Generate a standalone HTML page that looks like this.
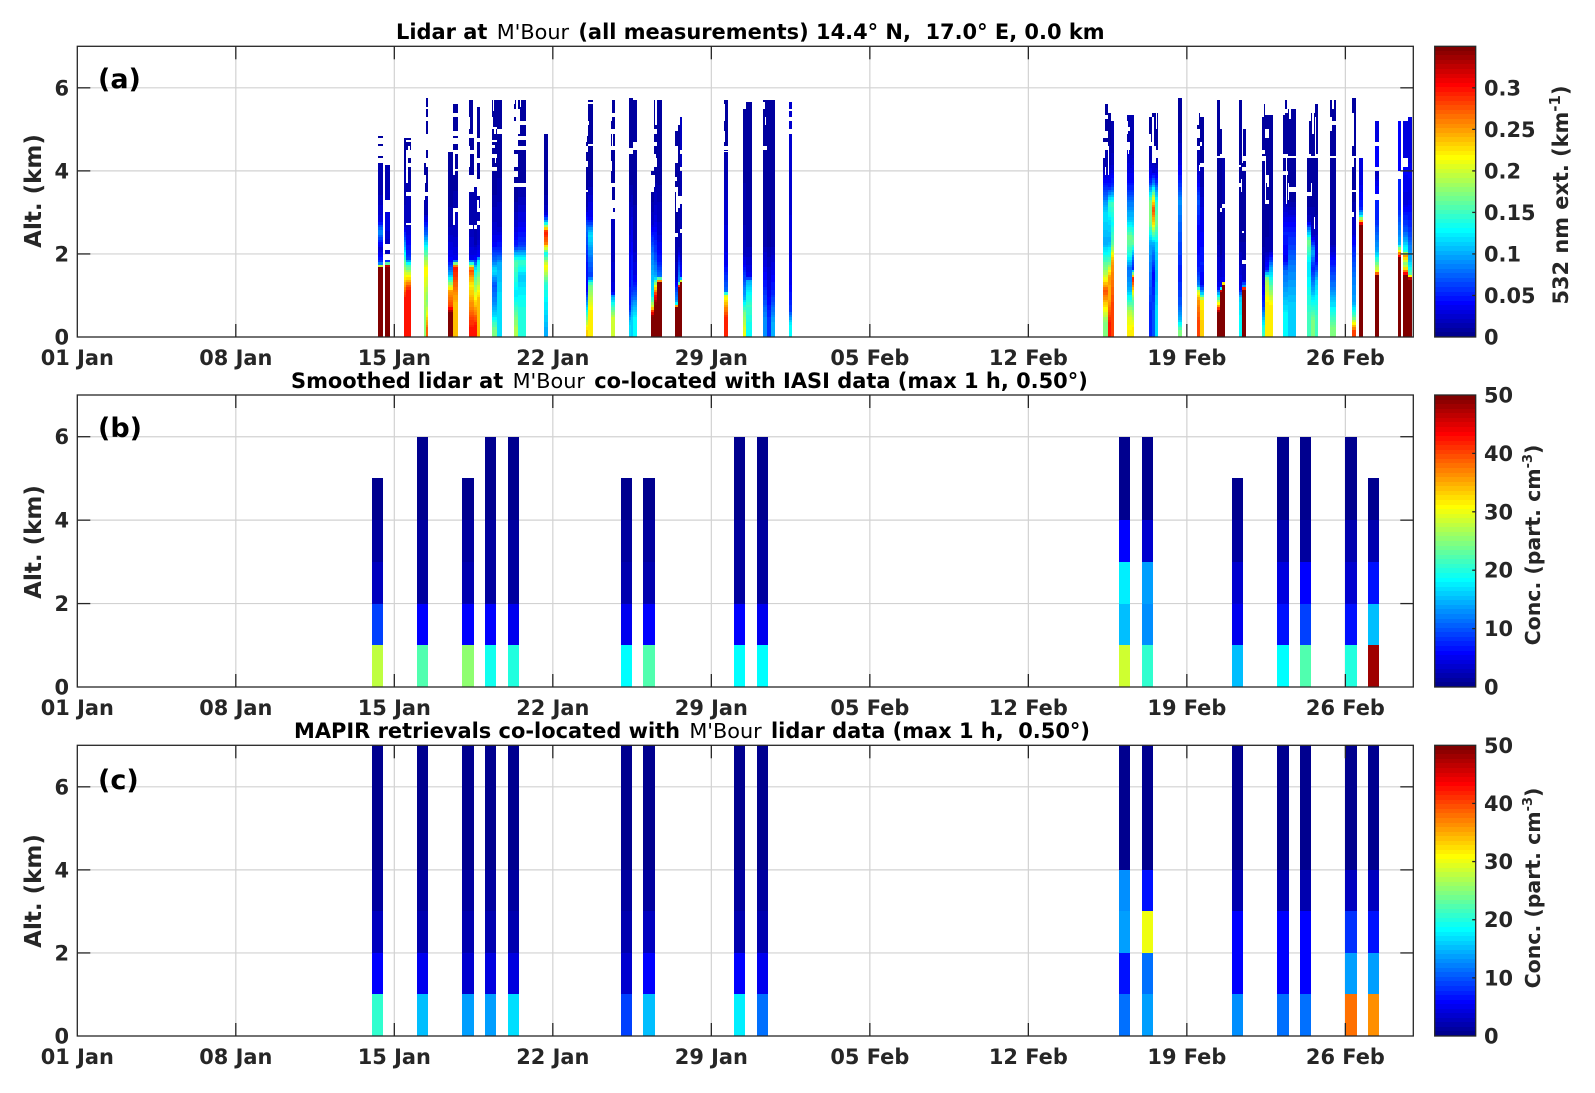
<!DOCTYPE html>
<html lang="en">
<head>
<meta charset="utf-8">
<title>Lidar at M'Bour</title>
<style>
html,body{margin:0;padding:0;background:#fff;}
svg{display:block;font-family:"DejaVu Sans","Liberation Sans",sans-serif;}
text{white-space:pre;}
.tick{font-size:20.9px;font-weight:700;fill:#262626;}
.lab{font-size:23px;font-weight:700;fill:#262626;}
.ttl{font-size:20.95px;font-weight:700;fill:#000;}
.ttl .m{font-weight:400;font-size:20.8px;}
.let{font-size:27px;font-weight:700;fill:#000;}
</style>
</head>
<body>
<svg id="fig" xmlns="http://www.w3.org/2000/svg" width="1595" height="1093" viewBox="0 0 1595 1093">
<rect width="1595" height="1093" fill="#fff"/>
<g id="marks"></g>
<text class="ttl" x="396" y="39">Lidar at <tspan class="m" dx="2">M'Bour</tspan><tspan dx="2"> (all measurements) 14.4° N,  17.0° E, 0.0 km</tspan></text>
<text class="ttl" x="291" y="388">Smoothed lidar at <tspan class="m" dx="2">M'Bour</tspan><tspan dx="2"> co-located with IASI data (max 1 h, 0.50°)</tspan></text>
<text class="ttl" x="294" y="738">MAPIR retrievals co-located with <tspan class="m" dx="2">M'Bour</tspan><tspan dx="2"> lidar data (max 1 h,  0.50°)</tspan></text>
<text class="let" x="98" y="88">(a)</text>
<text class="let" x="98" y="437">(b)</text>
<text class="let" x="98" y="789">(c)</text>
<text class="lab" text-anchor="middle" transform="translate(41,191) rotate(-90)">Alt. (km)</text>
<text class="lab" text-anchor="middle" transform="translate(41,542) rotate(-90)">Alt. (km)</text>
<text class="lab" text-anchor="middle" transform="translate(41,891) rotate(-90)">Alt. (km)</text>
<text class="lab" style="font-size:20.9px" text-anchor="middle" transform="translate(1568,195) rotate(-90)">532 nm ext. (km<tspan dy="-8" font-size="15">-1</tspan><tspan dy="8">)</tspan></text>
<text class="lab" style="font-size:20.5px" text-anchor="middle" transform="translate(1540,545) rotate(-90)">Conc. (part. cm<tspan dy="-8" font-size="13">-3</tspan><tspan dy="8">)</tspan></text>
<text class="lab" style="font-size:20.5px" text-anchor="middle" transform="translate(1540,888) rotate(-90)">Conc. (part. cm<tspan dy="-8" font-size="13">-3</tspan><tspan dy="8">)</tspan></text>
</svg>
<script>
// ---------- tick labels ----------
const dateTickDays = [0, 7, 14, 21, 28, 35, 42, 49, 56];
const dateTickLabels = ['01 Jan', '08 Jan', '15 Jan', '22 Jan', '29 Jan', '05 Feb', '12 Feb', '19 Feb', '26 Feb'];
const altTicks = [0, 2, 4, 6];
const extTicks = [0, 0.05, 0.1, 0.15, 0.2, 0.25, 0.3];
const extTickLabels = ['0', '0.05', '0.1', '0.15', '0.2', '0.25', '0.3'];
const concTicks = [0, 10, 20, 30, 40, 50];
const concTickLabels = ['0', '10', '20', '30', '40', '50'];

// ---------- panel (b) and (c): 1 km altitude bins, ground upward ----------
const profileDays = [13, 15, 17, 18, 19, 24, 25, 29, 30, 46, 47, 51, 53, 54, 56, 57];
const smoothedConc = [
  [27.5, 8.6, 3, 1.5, 0.5],
  [22, 6.2, 1.2, 1.2, 0.5, 0.5],
  [25, 6.2, 2, 1.2, 0.5],
  [19.5, 5.5, 1.5, 1.2, 0.5, 0.5],
  [20.3, 5, 1.5, 1.2, 0.5, 0.5],
  [18, 4.7, 2, 1.2, 0.5],
  [22, 6.2, 2, 1.2, 0.5],
  [18.7, 6.2, 1.5, 1.2, 0.5, 0.5],
  [18, 4.7, 1.5, 1.2, 0.5, 0.5],
  [28.5, 15, 17.5, 6.2, 0.5, 0.5],
  [21, 12.5, 14, 3.6, 0.5, 0.5],
  [15.6, 4.7, 3.6, 1, 0.5],
  [18, 7, 4.5, 1.8, 0.5, 0.5],
  [22, 8.6, 5.5, 1.5, 0.5, 0.5],
  [20.3, 7, 3.5, 1.8, 0.5, 0.5],
  [48, 15, 7, 1.8, 0.5]
];
const mapirConc = [
  [21, 6.2, 2.5, 1.2, 0.5, 0.5, 0.5],
  [15.6, 4.7, 2.2, 1.2, 0.5, 0.5, 0.5],
  [14, 3.5, 2.2, 1.2, 0.5, 0.5, 0.5],
  [14, 4, 2.2, 1.2, 0.5, 0.5, 0.5],
  [16.5, 4, 2.2, 1.2, 0.5, 0.5, 0.5],
  [8.6, 3.5, 2.2, 1.2, 0.5, 0.5, 0.5],
  [15.6, 6.2, 2.5, 1.2, 0.5, 0.5, 0.5],
  [17.5, 6.2, 2.2, 1.2, 0.5, 0.5, 0.5],
  [11, 4.7, 2.2, 1.2, 0.5, 0.5, 0.5],
  [11, 7, 14, 12.5, 0.5, 0.5, 0.5],
  [14, 11.7, 30, 7, 0.5, 0.5, 0.5],
  [12.5, 6.2, 6, 2, 0.5, 0.5, 0.5],
  [11.7, 5.5, 5.5, 1.8, 0.5, 0.5, 0.5],
  [11.7, 6.2, 6.2, 1.8, 0.5, 0.5, 0.5],
  [37.5, 14, 8, 2.5, 0.5, 0.5, 0.5],
  [36.5, 13.5, 7, 2.5, 0.5, 0.5, 0.5]
];

// ---------- panel (a): lidar curtain ----------
// lidarDays: [start day, end day]; lidarProfiles: flat [top altitude km, extinction, ...] from the ground up (null = no data)
const _ = null;
const lidarDays = [
  [13.28,13.50],[13.59,13.81],
  [14.43,14.52],[14.52,14.74],
  [15.31,15.40],[15.40,15.49],
  [16.37,16.61],[16.61,16.83],
  [17.30,17.52],[17.52,17.64],[17.64,17.79],
  [18.32,18.54],[18.54,18.76],
  [19.29,19.47],[19.47,19.82],
  [20.61,20.79],
  [22.47,22.56],[22.56,22.78],
  [23.57,23.75],
  [24.37,24.46],[24.46,24.55],[24.55,24.72],
  [25.34,25.47],[25.47,25.59],[25.59,25.83],
  [26.40,26.53],[26.53,26.62],[26.62,26.71],
  [28.56,28.74],
  [29.40,29.54],[29.54,29.80],
  [30.29,30.46],[30.46,30.64],[30.64,30.82],
  [31.44,31.57],
  [45.31,45.53],[45.53,45.66],[45.66,45.79],
  [46.37,46.50],[46.50,46.59],[46.59,46.68],
  [47.34,47.47],[47.47,47.60],[47.60,47.74],
  [48.62,48.80],
  [49.46,49.59],[49.59,49.77],
  [50.34,50.48],[50.48,50.56],[50.56,50.70],
  [51.31,51.45],[51.45,51.62],
  [52.33,52.46],[52.46,52.64],[52.64,52.82],
  [53.26,53.48],[53.48,53.83],
  [54.32,54.49],[54.49,54.67],[54.67,54.80],
  [55.33,55.60],
  [56.31,56.48],[56.62,56.79],
  [57.32,57.50],
  [58.34,58.46],[58.55,58.77],[58.77,58.95]
];
const lidarProfiles = [
  [1.65,.345, 1.72,.24, 1.85,.06, 2.4,.022, 2.65,.09, 3,.03, 4.2,.012, 4.3,_, 4.35,.01, 4.6,_, 4.65,.01, 4.8,_, 4.85,.01, 5,_],
  [1.7,.345, 1.76,.28, 1.85,.06, 2,_, 2.1,.02, 2.25,_, 2.35,.02, 3,.03, 3.3,_, 3.45,.02, 4.15,.012],
  [1.85,.3, 3.5,.02, 4.8,.01],
  [.6,.3, 1.65,.3, 1.8,.15, 2,.06, 3.4,.02, 3.5,_, 3.6,.016, 4.1,.01, 4.2,_, 4.3,.01, 4.5,_, 4.55,.01, 4.7,.01, 4.75,_, 4.8,.01],
  [1.3,.18, 1.95,.22, 2.3,.14, 2.6,.08, 3.4,.012, 3.5,_, 3.7,.01, 3.9,_, 4.2,.01],
  [.4,.27, 1.3,.17, 1.95,.22, 2.3,.14, 2.6,.08, 3.4,.012, 3.5,_, 4.1,.01, 4.3,_, 4.5,.01, 4.9,_, 5.2,.01, 5.3,_, 5.5,.01, 5.55,_, 5.75,.01],
  [.6,.345, .9,.28, 1.3,.25, 1.7,.1, 2,.04, 3.6,.012, 4.45,.008, 4.75,_],
  [1.65,.24, 1.72,.3, 2,.035, 3,.02, 3.1,_, 3.5,.012, 4,.01, 4.05,_, 4.4,.008, 4.5,_, 4.65,.008, 4.8,_, 5.3,.008, 5.4,_, 5.6,.008],
  [.4,.3, 1,.26, 1.5,.22, 1.75,.28, 2,.035, 3.5,.012, 3.9,_, 4.4,.008, 4.5,_, 4.8,.008, 4.9,_, 5.7,.008],
  [.5,.3, 1,.24, 1.5,.18, 1.8,.12, 2,.04, 2.6,.012, 2.7,_, 3.6,.012, 3.8,_, 5.5,_],
  [1.8,.24, 1.9,.12, 2,.04, 2.7,.02, 2.8,_, 3,.012, 3.1,_, 3.4,.012, 3.8,_, 4.2,.008, 4.3,_, 4.7,.008, 4.8,_, 5.55,.008],
  [.4,.17, .6,.12, 1,.09, 1.5,.07, 1.7,.12, 1.95,.08, 2.5,.04, 3,.022, 4,.01, 4.1,_, 4.3,.008, 4.4,_, 4.7,.008, 4.75,_, 5,.008, 5.05,_, 5.7,.008],
  [1.7,.12, 1.85,.1, 2.2,.06, 3,.022, 4.9,.01, 5,_, 5.7,.008],
  [.4,.19, .8,.16, 1.2,.12, 1.6,.14, 2,.16, 2.4,.05, 3,.024, 3.6,.01, 3.7,_, 3.85,.008, 4,_, 4.1,.008, 4.4,_, 4.5,.008, 4.7,_, 5.2,_, 5.3,.008, 5.5,_, 5.7,.008],
  [1.3,.14, 1.6,.11, 2,.15, 2.4,.06, 3,.035, 3.2,.025, 3.6,.014, 3.7,_, 4.5,.008, 4.6,_, 4.75,.008, 4.85,_, 5.1,.008, 5.2,_, 5.7,.008],
  [.3,.1, 1,.12, 1.5,.14, 1.9,.22, 2.1,.13, 2.4,.26, 2.65,.3, 2.9,.1, 3,.03, 3.5,.012, 4.9,.006],
  [.35,.23, .9,.13, 1.3,.04, 2.4,.05, 2.8,.08, 3.5,.012, 3.55,_, 3.7,.008, 3.8,.008, 4.15,.008, 4.25,_, 4.45,.008, 4.6,_, 4.85,.008, 5,_],
  [1.25,.22, 1.3,.16, 1.6,.06, 2.2,.08, 2.7,.12, 3,.04, 4.6,.01, 4.65,_, 5.6,.008, 5.65,_, 5.7,.008],
  [.9,.2, 1.05,.1, 1.1,.03, 2.85,.02, 3,_, 3.1,.012, 3.3,_, 3.6,.008, 3.7,_, 4.5,.008, 4.6,_, 4.9,.008, 5,_, 5.3,.008, 5.4,_, 5.7,.008],
  [.6,.12, .8,.05, 3,.035, 4.4,.01, 4.55,_, 5.75,.008],
  [1,.11, 1.2,.06, 2,.05, 3,.035, 4.4,.01, 4.55,_, 5.75,.008],
  [.9,.13, 1,.08, 1.8,.035, 3,.015, 4.5,.008, 4.7,_, 5.7,.006],
  [.5,.345, .7,.3, .8,.2, 1.2,.12, 2,.1, 2.4,.07, 3,.025, 3.5,.01, 3.9,_, 4,.008, 4.2,_, 4.4,_, 4.6,.008, 4.8,_],
  [.8,.345, 1.2,.3, 1.3,.2, 1.6,.1, 2.5,.06, 3.5,.025, 4.1,.01, 4.3,_, 4.6,.008, 4.7,_, 4.9,.008, 5,_, 5.7,.006],
  [1.3,.345, 1.33,.3, 1.6,.08, 2,.05, 3,.025, 4.5,.01, 4.6,.008, 5.7,.006],
  [.7,.345, .75,.3, .9,.1, 2,.02, 2.4,.012, 2.5,_, 3.5,.008, 3.6,_, 4.2,.008, 4.3,_, 4.95,.006],
  [1.2,.345, 1.25,.3, 1.4,.1, 3,.014, 4,.01, 5.1,.01],
  [1.3,.345, 1.4,.2, 1.5,.05, 2.5,.014, 2.6,_, 3.2,.014, 3.3,_, 4,.014, 4.1,_, 4.4,.02, 4.5,_, 5.3,.02],
  [1,.29, 1.05,.2, 1.1,.08, 2.5,.035, 3.5,.025, 4.5,.014, 4.6,_, 5.7,.008],
  [.25,.21, .9,.17, 1,.1, 3,.02, 5.5,.008],
  [.25,.13, 1.3,.15, 1.4,.1, 1.5,.035, 3,.014, 5.65,.008],
  [.9,.09, 1.5,.05, 3,.014, 4.5,.006, 4.6,_, 5.7,.006],
  [.7,.06, 1.4,.035, 3,.01, 5.7,.006],
  [.7,.1, 1.5,.05, 3,.014, 5.7,.006],
  [.6,.13, .65,.06, 2,.035, 4.9,.025, 5,_, 5.2,.025, 5.3,_, 5.45,.025, 5.5,_, 5.65,.025],
  [.7,.17, 1,.24, 1.2,.28, 1.7,.2, 2,.15, 2.5,.1, 3.4,.12, 3.7,.06, 4.5,.012, 4.7,_, 4.8,.008, 4.95,_, 5.25,.008, 5.35,_, 5.6,.008],
  [.6,.3, 1.3,.24, 1.6,.25, 2,.16, 2.6,.1, 3,.12, 3.4,.15, 3.8,.05, 4.6,.014, 5.4,.008],
  [1.6,.28, 2,.25, 2.5,.16, 3,.13, 3.4,.15, 3.8,.06, 4.5,.02, 5.2,.012],
  [.3,.22, .8,.2, 1.5,.1, 1.8,.08, 2.2,.14, 2.6,.17, 3,.11, 3.5,.08, 4,.04, 4.5,.025, 4.7,_, 4.95,.014, 5.05,_, 5.35,.012],
  [.3,.22, .8,.2, 1.5,.1, 1.8,.08, 2.2,.14, 2.6,.17, 3,.11, 3.5,.08, 4,.04, 4.8,.016, 4.9,.012, 5.35,.012, 5.5,_],
  [.5,.22, 1.2,.15, 1.6,.3, 1.7,.05, 2,.07, 2.6,.17, 3,.11, 3.5,.08, 4,.04, 5.35,.012],
  [1,.05, 2,.08, 2.5,.1, 3,.17, 3.5,.17, 4,.05, 4.6,.014, 4.7,_, 5.3,.008],
  [1,.07, 2,.04, 2.5,.1, 2.9,.22, 3.2,.28, 3.5,.2, 3.8,.1, 4.2,.025, 5.4,.008],
  [1,.12, 2,.1, 2.5,.12, 3,.17, 3.5,.14, 4,.05, 4.3,.014, 4.5,_, 5.4,.008],
  [.3,.17, .6,.1, 1,.07, 2,.05, 3,.07, 3.5,.09, 4,.05, 4.6,.025, 5.75,.006],
  [.8,.28, 1,.25, 1.2,.2, 1.3,.08, 2,.05, 3,.035, 3.5,.07, 4,.035, 4.5,.012, 4.6,_, 4.8,.008, 5,_, 5.4,.008],
  [.8,.23, 1,.22, 1.05,.12, 1.5,.035, 2,.05, 3.5,.035, 4.1,.012, 4.2,_, 4.4,.008, 5.3,.008],
  [.6,.345, 1,.22, 1.1,.1, 1.3,.035, 4.3,.006, 4.35,_, 5.7,.006],
  [1.1,.345, 1.3,.035, 3,.006, 3.1,_, 4.3,.006, 4.4,_, 5,.006, 5.7,_],
  [1.25,.345, 1.3,.27, 1.4,.035, 3.1,.012, 3.2,_, 4.3,.012],
  [.8,.13, 1.1,.11, 1.2,.035, 3.6,.008, 3.7,_, 5.7,.006],
  [1.15,.345, 1.2,.28, 1.25,.1, 1.5,.02, 4,.006, 4.1,_, 4.25,.006, 4.35,_, 5,.006, 5.5,_],
  [.1,.15, .5,.13, 1,.06, 2,.014, 4.4,.006, 4.5,_, 5.6,.006],
  [.5,.22, 1.2,.22, 1.6,.18, 1.65,.05, 2.5,.014, 3.2,.006, 3.3,_, 3.7,.006, 3.9,_, 4.8,.006, 5,_, 5.35,.006],
  [1.6,.22, 1.7,.1, 2.5,.014, 5.35,.006],
  [1,.13, 1.5,.09, 1.7,.08, 2,.035, 3,.05, 3.9,.008, 4,_, 4.3,.006, 4.4,_, 5.4,.006, 5.5,_, 5.7,.006],
  [1.6,.11, 2,.08, 2.5,.06, 3,.04, 3.5,.01, 3.6,_, 5.5,.008],
  [1,.15, 1.5,.13, 2,.12, 2.6,.17, 3,.02, 3.4,.008, 3.5,_, 4.3,.006, 4.4,_, 5.2,.006],
  [.8,.17, 1.5,.1, 1.8,.05, 2.3,.1, 2.6,.02, 4.3,.006, 4.35,_, 5.4,.006],
  [1,.15, 1.7,.11, 2,.035, 4.3,.006, 4.4,_, 5.6,.006],
  [.5,.17, 1,.12, 1.5,.08, 2,.05, 2.5,.014, 5.1,.006, 5.2,_, 5.7,.006],
  [.3,.28, .6,.17, 1,.1, 2,.08, 2.3,.05, 2.9,.02, 4.3,.006, 4.35,_, 5.6,.006, 5.75,.006],
  [2.7,.345, 2.85,.25, 3,.12, 3.2,.05, 4.3,.03],
  [1.5,.345, 1.6,.22, 2.5,.1, 3.3,.05, 3.45,_, 3.8,.04, 4,.02, 4.1,_, 4.6,.04, 4.7,_, 5.2,.03],
  [1.92,.345, 2,.29, 2.5,.1, 3.8,.05, 4,_, 5.2,.04],
  [1.5,.345, 1.6,.28, 1.9,.17, 2,.25, 2.1,.14, 3,.07, 3.5,.03, 3.9,.035, 4.1,.04, 4.3,_, 4.7,.03, 5.2,.03],
  [1.4,.345, 1.6,.16, 2,.11, 3,.06, 3.8,.03, 4,.04, 4.2,.035, 4.5,.03, 5.3,.03]
];
// lidarGaps: missing-data patches [start day, end day, low altitude km, high altitude km]
const lidarGaps = [
  [19.38,19.47,5.0,5.7],[19.29,19.33,5.6,5.7],[19.47,19.53,4.9,5.5],[19.53,19.58,5.55,5.7],
  [18.32,18.37,5.0,5.3],[18.37,18.41,5.45,5.7],[18.32,18.45,4.55,4.62],[18.45,18.5,4.2,4.3],[18.41,18.48,4.9,5.0],
  [22.47,22.52,4.7,5.0],[22.47,22.56,4.1,4.2],[22.47,22.52,3.5,3.55],[22.56,22.6,5.1,5.2],
  [23.57,23.62,5.2,5.7],[23.62,23.66,4.5,5.0],[23.57,23.66,3.0,3.1],[23.57,23.61,3.15,3.6],[23.57,23.62,4.0,4.25],
  [25.34,25.4,3.5,3.85],[25.34,25.47,4.3,4.7],[25.38,25.43,4.9,5.6],[25.47,25.52,3.6,3.9],[25.53,25.59,5.1,5.7],[25.47,25.55,4.2,4.4],
  [26.4,26.53,4.3,4.6],[26.44,26.53,3.0,3.5],[26.53,26.62,3.1,3.4],[26.62,26.71,3.2,3.4],[26.4,26.5,3.75,3.85],
  [28.56,28.62,5.2,5.6],[28.56,28.74,4.45,4.48],[28.56,28.62,4.7,4.95],
  [30.29,30.35,5.5,5.65],[30.35,30.42,5.1,5.3],
  [17.30,17.34,4.1,4.6],[17.4,17.46,3.5,3.8],[17.3,17.46,2.6,2.7],[17.46,17.52,4.9,5.7],[17.3,17.36,5.0,5.3],[17.64,17.72,3.1,3.3],[17.64,17.79,2.75,2.8],
  [16.37,16.61,4.5,4.8],[16.61,16.66,2.7,3.0],[16.61,16.7,3.9,4.45],[16.61,16.83,4.85,4.95],
  [14.52,14.6,3.7,4.3],[14.62,14.68,4.4,4.6],[14.52,14.74,2.7,2.75],[15.31,15.36,3.3,3.7],[15.31,15.4,4.2,4.6],
  [45.31,45.4,4.9,5.6],[45.31,45.38,4.3,4.5],[45.4,45.45,3.9,4.1],[45.53,45.58,3.9,4.6],[46.37,46.42,4.9,5.2],[46.42,46.46,4.4,4.7],
  [47.34,47.4,4.6,4.9],[47.47,47.53,4.2,5.3],[47.55,47.62,4.2,4.6],[47.62,47.68,5.0,5.4],
  [49.46,49.52,5.1,5.4],[49.59,49.66,4.6,4.7],[49.52,49.59,4.0,4.15],
  [50.48,50.56,3.0,3.1],[50.34,50.48,4.3,4.35],
  [51.31,51.38,4.1,4.15],[51.38,51.45,3.5,3.8],[51.45,51.5,4.2,5.5],[51.45,51.62,1.75,1.85],[51.45,51.52,2.5,2.55],
  [52.33,52.4,5.3,5.6],[52.46,52.5,3.2,4.3],[52.5,52.56,5.45,5.7],[52.33,52.5,4.25,4.35],[52.56,52.64,3.6,3.9],
  [53.26,53.33,5.35,5.7],[53.37,53.42,3.2,4.4],[53.48,53.53,3.3,3.7],[53.42,53.48,5.45,5.7],[53.53,53.6,5.25,5.5],[53.26,53.83,4.3,4.35],
  [54.32,54.38,4.3,5.4],[54.49,54.54,3.4,3.7],[54.54,54.6,4.9,5.4],[54.6,54.67,2.6,2.9],[54.67,54.72,4.35,5.3],
  [55.33,55.42,4.95,5.3],[55.33,55.6,4.3,4.35],[55.42,55.5,5.5,5.7],
  [56.31,56.36,4.6,5.4],[56.31,56.48,3.5,3.55],[56.31,56.36,2.9,3.0],[56.31,56.38,4.1,4.35]
];

// ---------- axes ----------
const NS = 'http://www.w3.org/2000/svg';
const marks = document.getElementById('marks');
const plotLeft = 77.3, plotRight = 1413.3, pxPerDay = (plotRight - plotLeft) / 59;
const cbLeft = 1434.7, cbRight = 1475.7;
const altMax = 7;
const altStep = 0.06;
const panels = [
  { top: 46.3, bottom: 337, baseline: 365 },
  { top: 395, bottom: 687, baseline: 715 },
  { top: 745.3, bottom: 1036, baseline: 1064 }
];
function xScale(day) { return plotLeft + day * pxPerDay; }
function yScale(p, alt) { return p.bottom - (alt / altMax) * (p.bottom - p.top); }
function cbScale(p, v, vmax) { return p.bottom - (v / vmax) * (p.bottom - p.top); }

function jet(v, vmax) {
  const i = Math.max(0, Math.min(63, Math.floor(v / vmax * 64)));
  const f = (i + 1) / 64;
  const c = (d) => Math.round(255 * Math.max(0, Math.min(1, 1.5 - Math.abs(4 * f - d))));
  return 'rgb(' + c(3) + ',' + c(2) + ',' + c(1) + ')';
}
function rect(x0, y0, x1, y1, fill) {
  const el = document.createElementNS(NS, 'rect');
  const xa = Math.round(x0), xb = Math.round(x1), ya = Math.round(y0), yb = Math.round(y1);
  el.setAttribute('x', xa);
  el.setAttribute('y', ya);
  el.setAttribute('width', Math.max(1, xb - xa));
  el.setAttribute('height', Math.max(1, yb - ya));
  el.setAttribute('fill', fill);
  el.setAttribute('shape-rendering', 'crispEdges');
  marks.appendChild(el);
  return el;
}
function line(x1, y1, x2, y2, color, width) {
  const el = document.createElementNS(NS, 'line');
  el.setAttribute('x1', x1);
  el.setAttribute('y1', y1);
  el.setAttribute('x2', x2);
  el.setAttribute('y2', y2);
  el.setAttribute('stroke', color);
  el.setAttribute('stroke-width', width);
  marks.appendChild(el);
  return el;
}
function label(x, y, str, anchor) {
  const el = document.createElementNS(NS, 'text');
  el.setAttribute('x', x);
  el.setAttribute('y', y);
  el.setAttribute('text-anchor', anchor);
  el.setAttribute('class', 'tick');
  el.textContent = str;
  marks.appendChild(el);
  return el;
}

// gridlines first (under the data)
panels.forEach(function (p) {
  dateTickDays.forEach(function (d) {
    if (d === 0) return;
    const g = line(xScale(d), p.top, xScale(d), p.bottom, '#d2d2d2', 1.2);
    
    
  });
  altTicks.forEach(function (a) {
    if (a === 0) return;
    const g = line(plotLeft, yScale(p, a), plotRight, yScale(p, a), '#d2d2d2', 1.2);
    
    
  });
});

// panel (a) curtain: contiguous profile segments are shaded through their read values
function profileRuns(prof) {
  const runs = [];
  let cur = null, base = 0;
  for (let k = 0; k < prof.length; k += 2) {
    const top = prof[k], val = prof[k + 1];
    if (val === null) {
      cur = null;
    } else {
      if (!cur) { cur = { base: base, top: top, nodes: [] }; runs.push(cur); }
      cur.top = top;
      if (val >= 0.33) { cur.nodes.push([base, val], [top, val]); }
      else { cur.nodes.push([(base + top) / 2, val]); }
    }
    base = top;
  }
  return runs;
}
function nodeValue(nodes, a) {
  if (a <= nodes[0][0]) return nodes[0][1];
  for (let i = 1; i < nodes.length; i++) {
    if (a <= nodes[i][0]) {
      const n0 = nodes[i - 1], n1 = nodes[i];
      return n0[1] + (n1[1] - n0[1]) * (a - n0[0]) / Math.max(1e-6, n1[0] - n0[0]);
    }
  }
  return nodes[nodes.length - 1][1];
}
lidarProfiles.forEach(function (prof, i) {
  const d = lidarDays[i];
  profileRuns(prof).forEach(function (run) {
    for (let a = run.base; a < run.top - 1e-6; a += altStep) {
      const hi = Math.min(a + altStep, run.top);
      const v = nodeValue(run.nodes, (a + hi) / 2);
      const c = rect(xScale(d[0]), yScale(panels[0], hi), xScale(d[1]), yScale(panels[0], a), jet(v, 0.35));
      
      
    }
  });
});
lidarGaps.forEach(function (g) {
  const c = rect(xScale(g[0]), yScale(panels[0], g[3]), xScale(g[1]), yScale(panels[0], g[2]), '#fff');
  
  
});

// panels (b) and (c)
function drawBins(p, series, vmax) {
  series.forEach(function (col, i) {
    const d = profileDays[i];
    col.forEach(function (v, b) {
      const c = rect(xScale(d), yScale(p, b + 1), xScale(d + 0.5), yScale(p, b), jet(v, vmax));
      
      
    });
  });
}
drawBins(panels[1], smoothedConc, 50);
drawBins(panels[2], mapirConc, 50);

// frames, ticks, tick labels
panels.forEach(function (p) {
  dateTickDays.forEach(function (d, i) {
    const x = xScale(d);
    if (d !== 0) {
      const t1 = line(x, p.bottom, x, p.bottom - 13, '#262626', 1.3);
      
      
      const t2 = line(x, p.top, x, p.top + 13, '#262626', 1.3);
      
      
    }
    const l = label(x, p.baseline, dateTickLabels[i], 'middle');
    
    
  });
  altTicks.forEach(function (a) {
    const y = yScale(p, a);
    if (a !== 0) {
      const t1 = line(plotLeft, y, plotLeft + 13, y, '#262626', 1.3);
      
      
      const t2 = line(plotRight, y, plotRight - 13, y, '#262626', 1.3);
      
      
    }
    const l = label(69, y + 7.5, String(a), 'end');
    
    
  });
  const f = document.createElementNS(NS, 'rect');
  f.setAttribute('x', plotLeft);
  f.setAttribute('y', p.top);
  f.setAttribute('width', plotRight - plotLeft);
  f.setAttribute('height', p.bottom - p.top);
  f.setAttribute('fill', 'none');
  f.setAttribute('stroke', '#262626');
  f.setAttribute('stroke-width', 1.3);
  
  
  marks.appendChild(f);
});

// colorbars
function colorbar(p, vmax, ticks, labels) {
  for (let i = 0; i < 64; i++) {
    const c = rect(cbLeft, cbScale(p, (i + 1) / 64 * vmax, vmax), cbRight, cbScale(p, i / 64 * vmax, vmax), jet((i + 0.5) / 64 * vmax, vmax));
    
    
  }
  ticks.forEach(function (v, i) {
    const y = cbScale(p, v, vmax);
    if (v > 0 && v < vmax) {
      const t = line(cbRight, y, cbRight - 3.5, y, '#262626', 1.3);
      
      
    }
    const l = label(1484, y + 7.5, labels[i], 'start');
    
    
  });
  const f = document.createElementNS(NS, 'rect');
  f.setAttribute('x', cbLeft);
  f.setAttribute('y', p.top);
  f.setAttribute('width', cbRight - cbLeft);
  f.setAttribute('height', p.bottom - p.top);
  f.setAttribute('fill', 'none');
  f.setAttribute('stroke', '#262626');
  f.setAttribute('stroke-width', 1.3);
  
  
  marks.appendChild(f);
}
colorbar(panels[0], 0.35, extTicks, extTickLabels);
colorbar(panels[1], 50, concTicks, concTickLabels);
colorbar(panels[2], 50, concTicks, concTickLabels);
</script>
</body>
</html>
